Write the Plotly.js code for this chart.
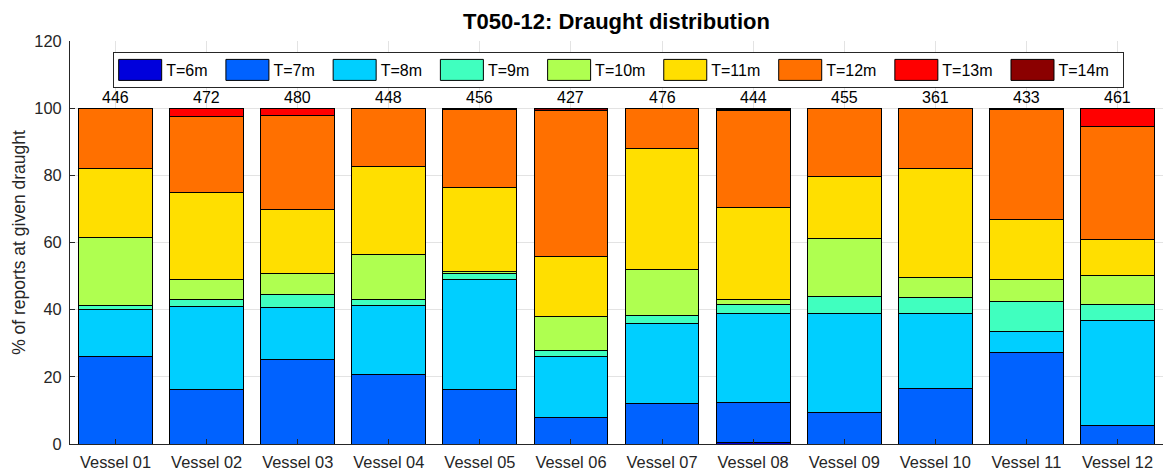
<!DOCTYPE html>
<html>
<head>
<meta charset="utf-8">
<script src="https://cdn.plot.ly/plotly-3.0.1.min.js"></script>
<style>
html, body { margin: 0; padding: 0; background: #fff; }
#chart { width: 1163px; height: 472px; }
</style>
</head>
<body>
<div id="chart"></div>
<script>
// ---- data (percent of reports per draught class) ----
const vessels = ['Vessel 01','Vessel 02','Vessel 03','Vessel 04','Vessel 05','Vessel 06',
                 'Vessel 07','Vessel 08','Vessel 09','Vessel 10','Vessel 11','Vessel 12'];
const totals = [446, 472, 480, 448, 456, 427, 476, 444, 455, 361, 433, 461];
const seriesNames = ['T=6m','T=7m','T=8m','T=9m','T=10m','T=11m','T=12m','T=13m','T=14m'];

const t6  = [0,    0,    0,    0,    0,    0,    0,    0.4,  0,    0,    0,    0   ];
const t7  = [26.0, 16.2, 25.1, 20.6, 16.3, 7.9,  12.1, 12.0, 9.5,  16.5, 27.1, 5.5 ];
const t8  = [14.0, 24.6, 15.6, 20.7, 32.7, 18.2, 23.8, 26.5, 29.5, 22.4, 6.3,  31.4];
const t9  = [1.2,  2.2,  3.8,  1.7,  1.8,  1.7,  2.5,  2.6,  4.8,  4.8,  9.0,  4.6 ];
const t10 = [20.3, 5.9,  6.4,  13.3, 0.6,  10.1, 13.5, 1.6,  17.3, 6.0,  6.6,  8.6 ];
const t11 = [20.6, 26.1, 19.0, 26.4, 25.1, 17.9, 36.2, 27.4, 18.7, 32.2, 17.8, 10.9];
const t12 = [17.7, 22.4, 27.8, 17.1, 23.2, 43.4, 11.7, 28.7, 20.0, 18.1, 32.7, 33.4];
const t13 = [0.2,  2.4,  2.2,  0.2,  0.3,  0.2,  0.2,  0.5,  0.2,  0,    0.2,  5.5 ];
const t14 = [0,    0.2,  0.1,  0,    0,    0.6,  0,    0.3,  0,    0,    0.3,  0.1 ];

const yTicks = [0, 20, 40, 60, 80, 100, 120];

// ---- styling ----
const colors = ['#0000dc','#0062ff','#00cfff','#40ffbf','#afff50','#ffdf00','#ff7000','#ff0000','#8b0000'];
const font = 'Liberation Sans, Arial, Helvetica, sans-serif';
const legendPad = '\u00a0\u00a0'; // spacing after each legend label

const seriesValues = [t6, t7, t8, t9, t10, t11, t12, t13, t14];
const traces = seriesValues.map((vals, i) => ({
  type: 'bar',
  name: seriesNames[i] + legendPad,
  x: vessels,
  y: vals,
  marker: { color: colors[i], line: { color: '#000000', width: 1 } },
  hovertemplate: '%{x}<br>' + seriesNames[i] + ': %{y}%<extra></extra>'
}));

const annotations = vessels.map((v, i) => ({
  x: v, y: 100, xref: 'x', yref: 'y',
  text: String(totals[i]),
  showarrow: false, yanchor: 'bottom', yshift: 0,
  font: { family: font, size: 16, color: '#000' }
}));

const layout = {
  width: 1163, height: 472,
  margin: { l: 70, r: 0, t: 41, b: 28, pad: 0 },
  paper_bgcolor: '#ffffff',
  plot_bgcolor: '#ffffff',
  barmode: 'stack',
  bargap: 0.19,
  font: { family: font, size: 16, color: '#262626' },
  title: {
    text: '<b>T050-12: Draught distribution</b>',
    font: { family: font, size: 22, color: '#000' },
    x: 0.5, xref: 'paper', y: 1 - 21/472, yref: 'container', yanchor: 'middle'
  },
  xaxis: {
    type: 'category',
    range: [-0.5, 11.5],
    showline: true, linecolor: '#262626', linewidth: 1,
    showgrid: true, gridcolor: '#e3e3e3', gridwidth: 1,
    ticks: 'inside', ticklen: 5, tickcolor: '#262626',
    ticklabelstandoff: 3,
    tickfont: { family: font, size: 16.4, color: '#262626' },
    zeroline: false
  },
  yaxis: {
    range: [0, 120],
    tickvals: yTicks,
    ticktext: yTicks.map(String),
    showline: true, linecolor: '#262626', linewidth: 1,
    showgrid: true, gridcolor: '#e3e3e3', gridwidth: 1,
    ticks: 'inside', ticklen: 5, tickcolor: '#262626',
    ticklabelstandoff: 4,
    tickfont: { family: font, size: 16.4, color: '#262626' },
    zeroline: false,
    title: { text: '% of reports at given draught', font: { family: font, size: 17.5, color: '#262626' }, standoff: 4 }
  },
  legend: {
    orientation: 'h',
    traceorder: 'normal',
    x: 0.0395, xanchor: 'left', xref: 'paper',
    y: 0.9727, yanchor: 'top', yref: 'paper',
    bgcolor: '#ffffff', bordercolor: '#262626', borderwidth: 1,
    font: { family: font, size: 16, color: '#000' },
    itemwidth: 42,
    itemclick: false, itemdoubleclick: false
  },
  annotations: annotations,
  showlegend: true
};

Plotly.newPlot('chart', traces, layout, { displayModeBar: false }).then(gd => {
  // widen the legend swatches to MATLAB-like rectangles
  gd.querySelectorAll('.legend .legendpoints path').forEach(p => {
    p.setAttribute('d', 'M21.5,10.5H-21.5V-10.5H21.5Z');
    p.style.strokeWidth = '1px';
    p.style.stroke = '#000';
  });
});
</script>
</body>
</html>
